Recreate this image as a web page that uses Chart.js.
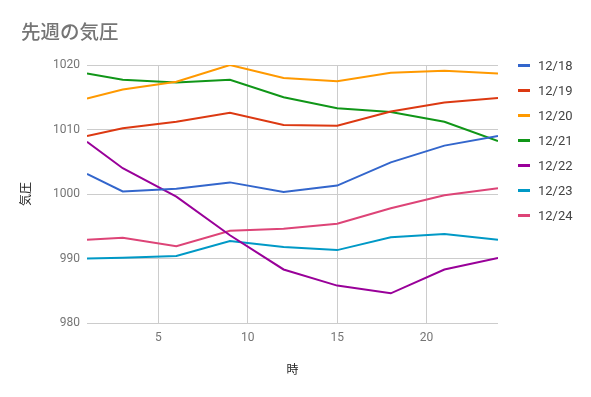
<!DOCTYPE html>
<html>
<head>
<meta charset="utf-8">
<script src="https://cdn.jsdelivr.net/npm/chart.js@4"></script>
<style>
  body { margin: 0; background: #fff; }
  #wrap { position: relative; width: 591px; height: 397px; }
  #title { position: absolute; left: 21px; top: 18px; font: 500 19.5px "Noto Sans CJK JP", sans-serif; color: #757575; line-height: 26px; }
  #legend { position: absolute; left: 518px; top: 57px; font: 13px Roboto, sans-serif; color: #444; }
  .item { display: flex; align-items: center; height: 16px; margin-bottom: 9px; }
  .sw { width: 12px; height: 3px; margin-right: 8px; }
</style>
</head>
<body>
<div id="wrap">
  <canvas id="pressure" width="591" height="397"></canvas>
  <div id="title">先週の気圧</div>
  <div id="legend"></div>
</div>
<script>
const hours = [1, 3, 6, 9, 12, 15, 18, 21, 24];
const days = ["12/18", "12/19", "12/20", "12/21", "12/22", "12/23", "12/24"];
const colors = ["#3366cc", "#dc3912", "#ff9900", "#109618", "#990099", "#0099c6", "#dd4477"];

const d1218 = [1003.1, 1000.4, 1000.8, 1001.8, 1000.3, 1001.3, 1004.9, 1007.5, 1009.0];
const d1219 = [1009.0, 1010.2, 1011.2, 1012.6, 1010.7, 1010.6, 1012.8, 1014.2, 1014.9];
const d1220 = [1014.8, 1016.2, 1017.4, 1020.0, 1018.0, 1017.5, 1018.8, 1019.1, 1018.7];
const d1221 = [1018.7, 1017.7, 1017.3, 1017.7, 1015.0, 1013.3, 1012.7, 1011.2, 1008.2];
const d1222 = [1008.1, 1004.0, 999.6, 993.6, 988.3, 985.8, 984.6, 988.3, 990.1];
const d1223 = [990.0, 990.1, 990.4, 992.7, 991.8, 991.3, 993.3, 993.8, 992.9];
const d1224 = [992.9, 993.2, 991.9, 994.3, 994.6, 995.4, 997.8, 999.8, 1000.9];

const allSeries = [d1218, d1219, d1220, d1221, d1222, d1223, d1224];
const xTicks = [5, 10, 15, 20];

const datasets = allSeries.map((vals, i) => ({
    label: days[i],
    data: vals.map((v, j) => ({ x: hours[j], y: v })),
    borderColor: colors[i],
    backgroundColor: colors[i],
    borderWidth: 2,
    pointRadius: 0,
    tension: 0
}));

// legend as html
const legend = document.getElementById("legend");
days.forEach((d, i) => {
    const row = document.createElement("div");
    row.className = "item";
    row.innerHTML = '<span class="sw" style="background:' + colors[i] + '"></span><span>' + d + '</span>';
    legend.appendChild(row);
});

const ctx = document.getElementById("pressure").getContext("2d");
const pressure_chart = new Chart(ctx, {
    type: 'line',
    data: { datasets: datasets },
    options: {
        responsive: false,
        animation: false,
        layout: { padding: { left: 14, right: 93, top: 65, bottom: 0 } },
        plugins: {
            legend: { display: false },
            title: { display: false },
            tooltip: { enabled: false }
        },
        scales: {
            x: {
                type: 'linear',
                min: 1,
                max: 24,
                afterBuildTicks: (scale) => { scale.ticks = xTicks.map(v => ({ value: v })); },
                afterFit: (scale) => { scale.height = 74; },
                grid: { color: "#cccccc", drawTicks: false },
                border: { display: false },
                ticks: { padding: 8, color: "#757575", font: { family: "Roboto", size: 12 } },
                title: {
                    display: true,
                    text: "時",
                    color: "#222222",
                    font: { family: "Noto Sans CJK JP", size: 12 },
                    padding: { top: 0, bottom: 20 }
                }
            },
            y: {
                min: 980,
                max: 1020,
                afterFit: (scale) => { scale.width = 73; },
                grid: { color: "#cccccc", drawTicks: false },
                border: { display: false },
                ticks: {
                    stepSize: 10,
                    padding: 7,
                    color: "#757575",
                    font: { family: "Roboto", size: 12 },
                    callback: (v) => String(v)
                },
                title: {
                    display: true,
                    text: "気圧",
                    color: "#222222",
                    font: { family: "Noto Sans CJK JP", size: 12 },
                    padding: 4
                }
            }
        }
    }
});
</script>
</body>
</html>
